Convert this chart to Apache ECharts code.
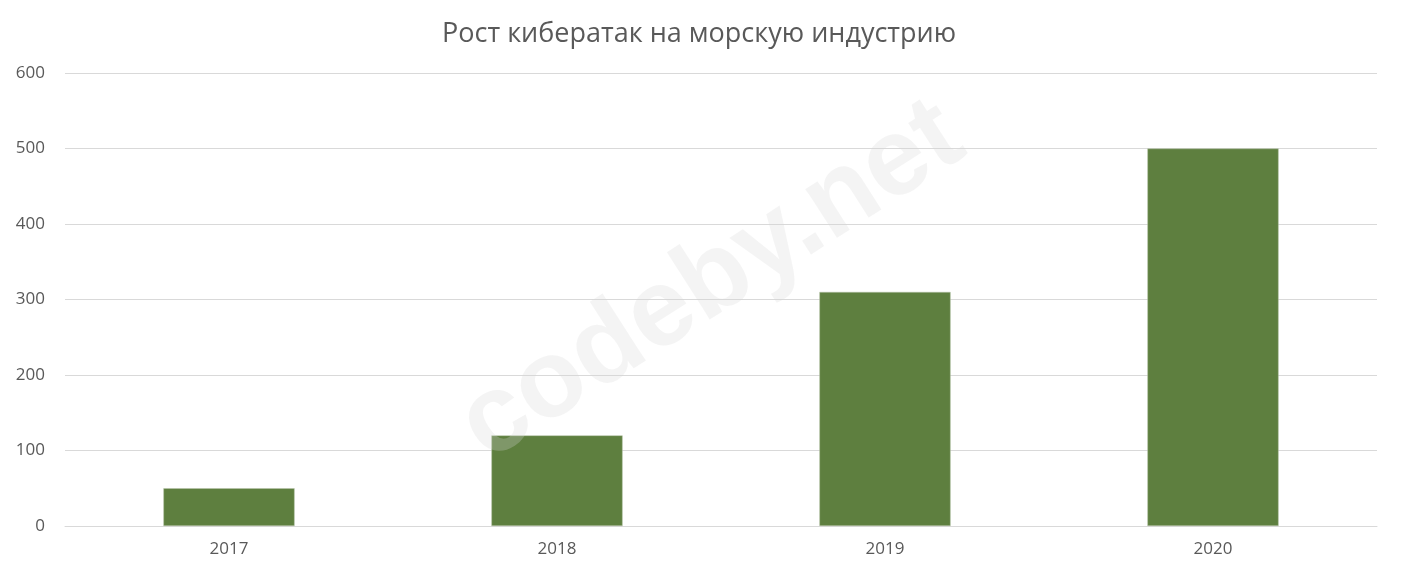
<!DOCTYPE html>
<html><head><meta charset="utf-8">
<script src="https://cdn.jsdelivr.net/npm/echarts@6/dist/echarts.min.js"></script>
<style>html,body{margin:0;padding:0;background:#fff}#c{width:1420px;height:580px}</style>
</head><body><div id="c"></div>
<script>
const title = 'Рост кибератак на морскую индустрию';
const categories = ['2017', '2018', '2019', '2020'];
const attacks = [50, 120, 310, 500];
const yTicks = [0, 100, 200, 300, 400, 500, 600];
const watermark = 'codeby.net';

const chart = echarts.init(document.getElementById('c'));
chart.setOption({
  backgroundColor: '#ffffff',
  animation: false,
  title: {
    text: title, left: 437, top: 16,
    textStyle: { fontFamily: 'Open Sans', fontWeight: 'normal', fontSize: 27, color: '#595959' }
  },
  grid: { left: 65, right: 43, top: 73, bottom: 54 },
  xAxis: {
    type: 'category', data: categories,
    axisLine: { lineStyle: { color: '#d9d9d9' } },
    axisTick: { show: false },
    axisLabel: { color: '#595959', fontFamily: 'Open Sans', fontSize: 17, margin: 15 }
  },
  yAxis: {
    type: 'value', min: yTicks[0], max: yTicks[yTicks.length - 1], interval: 100,
    axisLine: { show: false }, axisTick: { show: false },
    splitLine: { lineStyle: { color: '#d9d9d9' } },
    axisLabel: { color: '#595959', fontFamily: 'Open Sans', fontSize: 17, margin: 20, align: 'right' }
  },
  series: [{
    type: 'bar', data: attacks, barWidth: '40%',
    itemStyle: { color: '#5e7f3f', borderColor: '#b8c4ad', borderWidth: 0.5 }
  }],
  graphic: [{
    type: 'text', x: 712, y: 282, rotation: 0.57, z: 100,
    style: {
      text: watermark, fontFamily: 'Liberation Sans', fontWeight: 'bold', fontSize: 110,
      fill: 'rgba(215,215,215,0.28)', align: 'center', verticalAlign: 'middle'
    }
  }]
});
</script></body></html>
